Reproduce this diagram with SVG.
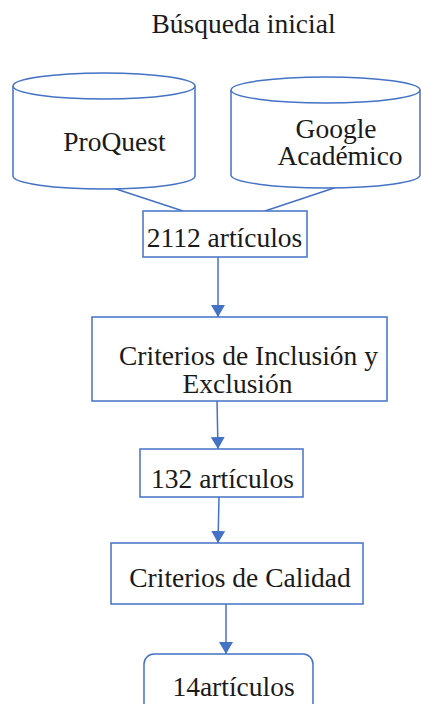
<svg xmlns="http://www.w3.org/2000/svg" width="421" height="704" viewBox="0 0 421 704">
<defs>
<style>
.s{fill:#fff;stroke:#4472c4;stroke-width:1.5}
.c{fill:none;stroke:#4472c4;stroke-width:1.5}
</style>
<marker id="ah" viewBox="0 0 12 14" refX="12" refY="7" markerWidth="12" markerHeight="14" markerUnits="userSpaceOnUse" orient="auto">
<path d="M0,0 L12,7 L0,14 Z" fill="#4472c4"/>
</marker>
</defs>
<rect width="421" height="704" fill="#fff"/>
<g font-family="Liberation Serif" font-size="27.5" fill="#1a1a1a" text-anchor="middle">
<text x="243.5" y="33">Búsqueda inicial</text>
<g id="connectors">
<line class="c" x1="110" y1="187" x2="183" y2="211"/>
<line class="c" x1="337" y1="187" x2="265" y2="211"/>
<line class="c" x1="218" y1="257" x2="218" y2="317" marker-end="url(#ah)"/>
<line class="c" x1="217" y1="401" x2="218" y2="449" marker-end="url(#ah)"/>
<line class="c" x1="219" y1="497" x2="218" y2="543" marker-end="url(#ah)"/>
<line class="c" x1="226" y1="604" x2="226" y2="654" marker-end="url(#ah)"/>
</g>
<g id="proquest">
<path class="s" d="M13,86 L13,176 A91,13 0 0 0 195,176 L195,86"/>
<ellipse class="s" cx="104" cy="86" rx="91" ry="13"/>
<text x="114.5" y="151">ProQuest</text>
</g>
<g id="google">
<path class="s" d="M231,90 L231,175 A94.5,13 0 0 0 420,175 L420,90"/>
<ellipse class="s" cx="325.5" cy="90" rx="94.5" ry="13"/>
<text x="336" y="138">Google</text>
<text x="340" y="165">Académico</text>
</g>
<g id="n2112">
<rect class="s" x="143" y="211" width="164" height="46"/>
<text x="224.5" y="247">2112 artículos</text>
</g>
<g id="criterios-ie">
<rect class="s" x="92" y="317" width="295" height="84"/>
<text x="248.5" y="365">Criterios de Inclusión y</text>
<text x="237.5" y="393">Exclusión</text>
</g>
<g id="n132">
<rect class="s" x="140" y="449" width="163" height="48"/>
<text x="222.5" y="488">132 artículos</text>
</g>
<g id="criterios-calidad">
<rect class="s" x="111" y="543" width="252" height="61"/>
<text x="240" y="587">Criterios de Calidad</text>
</g>
<g id="n14">
<rect class="s" x="144" y="654" width="169" height="70" rx="10"/>
<text x="233.5" y="696">14artículos</text>
</g>
</g>
</svg>
